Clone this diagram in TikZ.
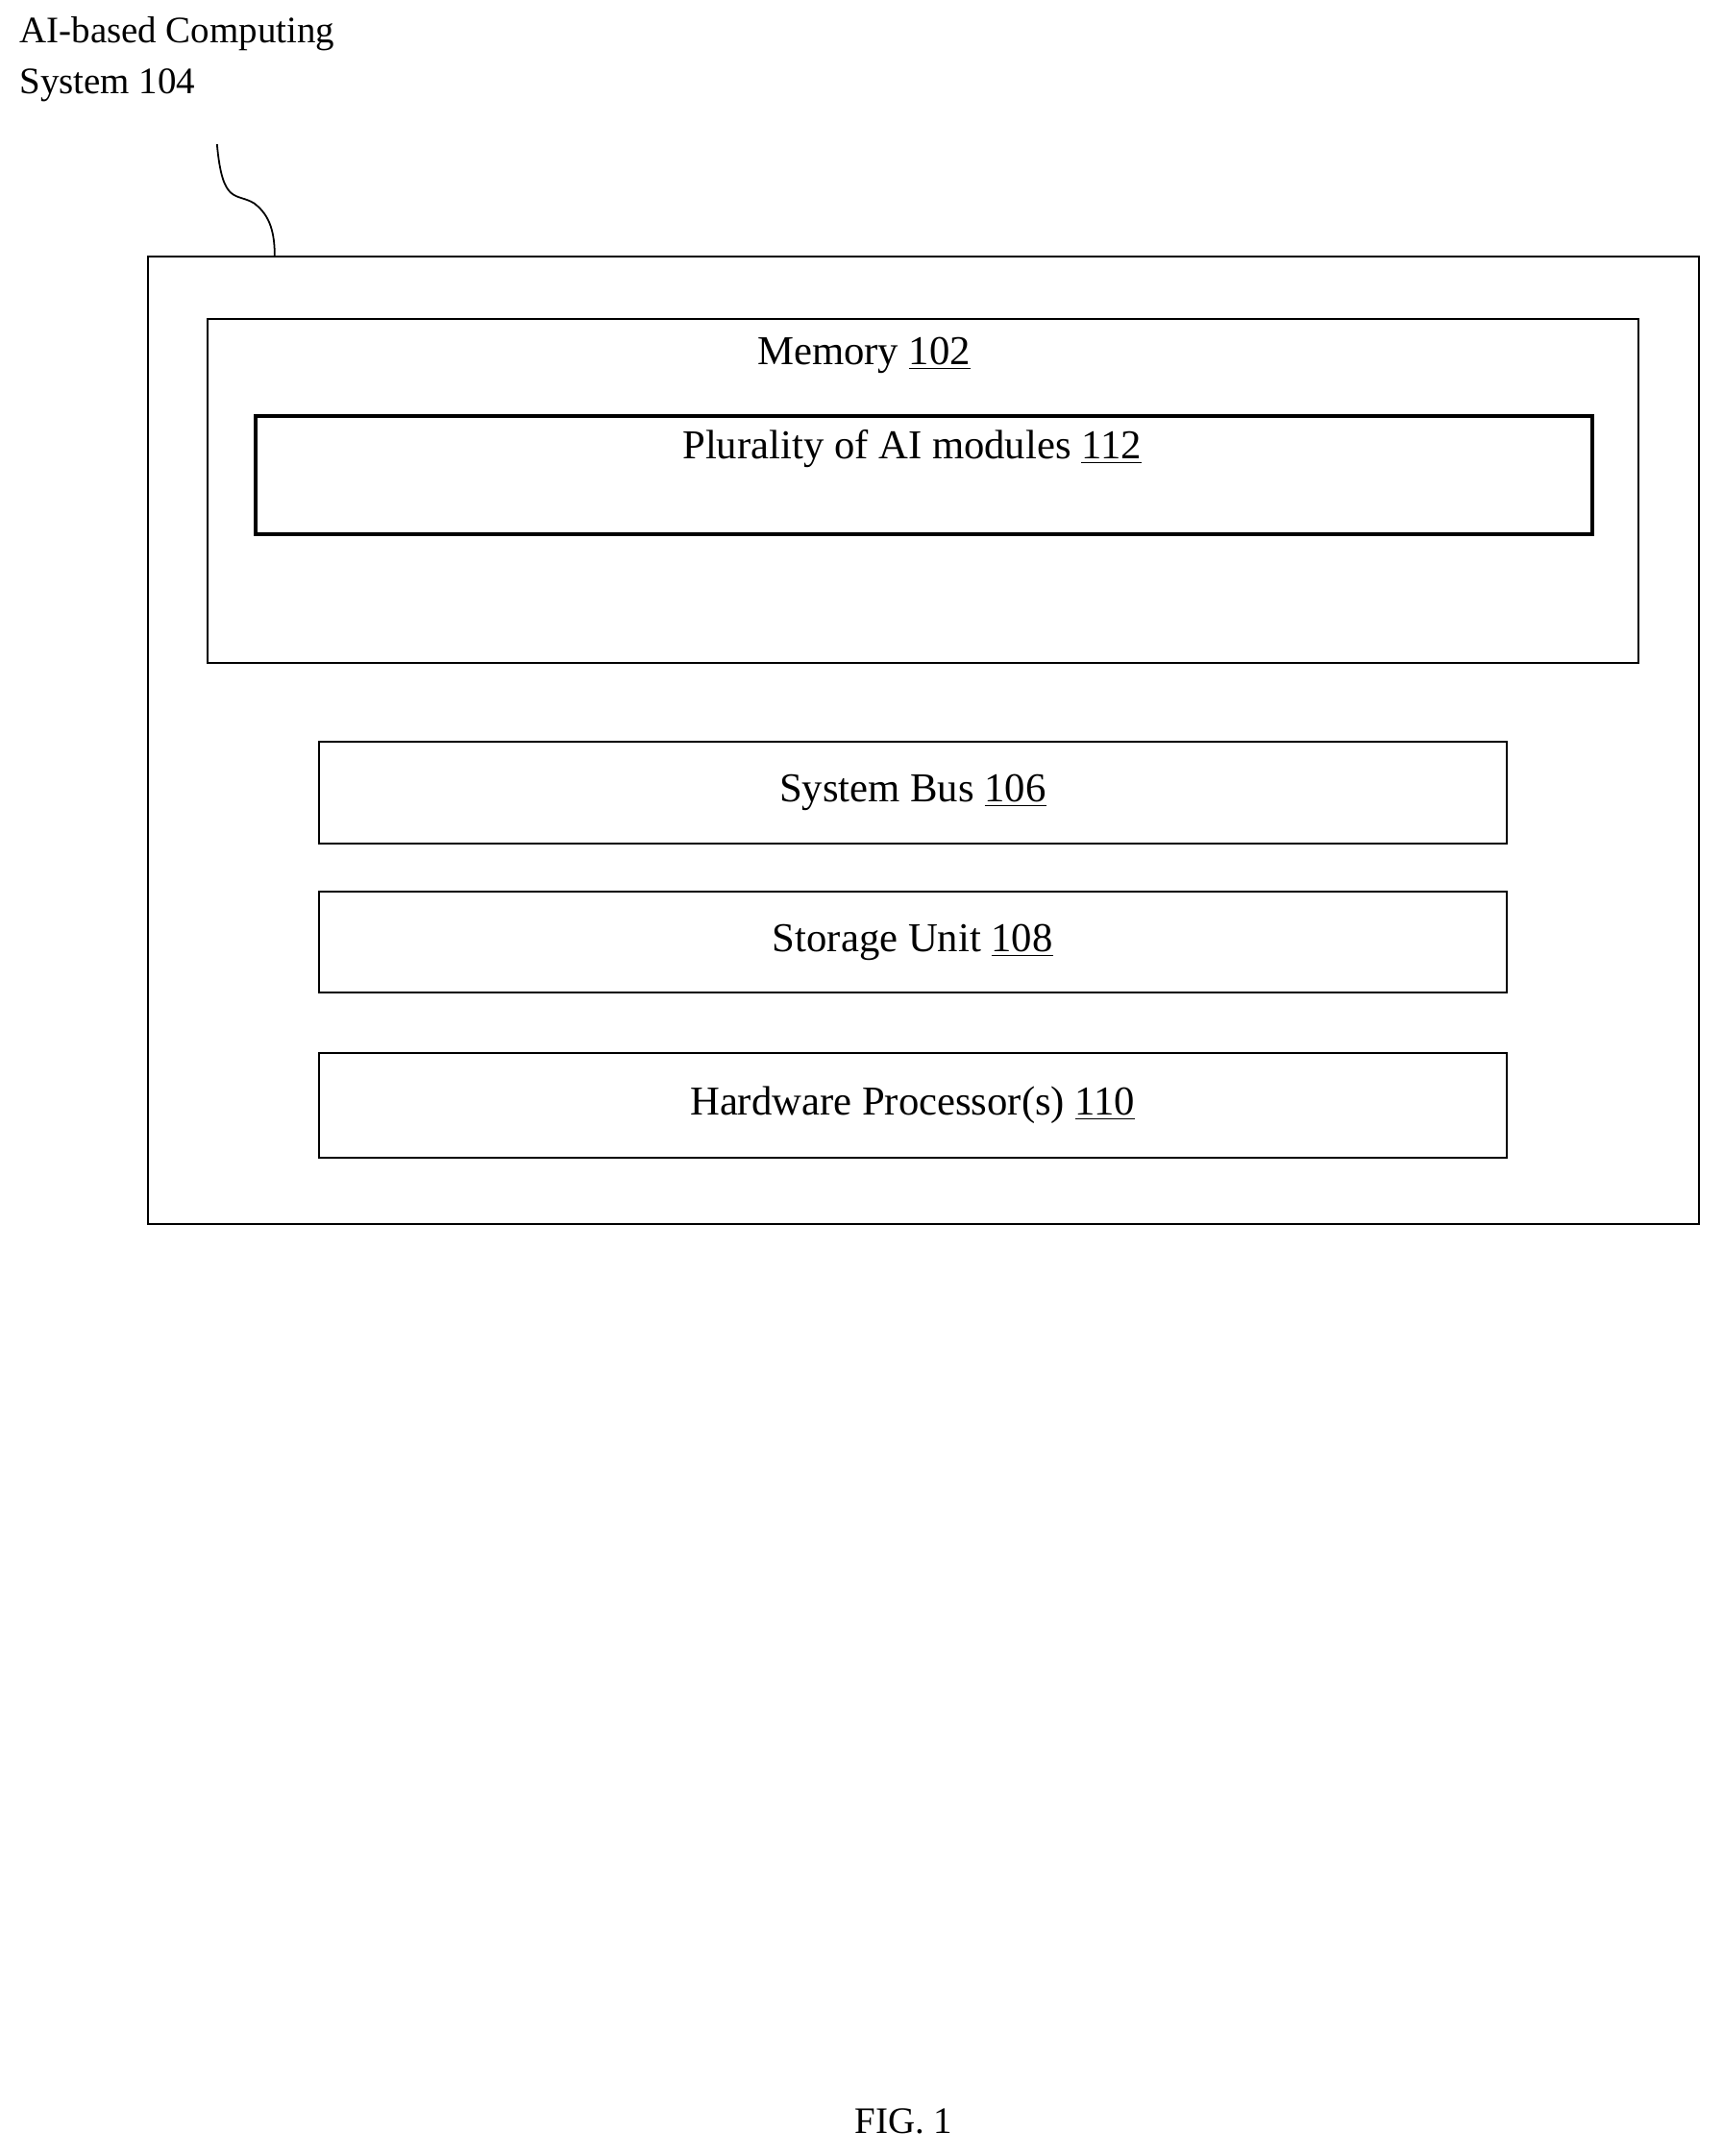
\documentclass[tikz,border=0pt]{standalone}
\usepackage{fontspec}
\setmainfont{Liberation Serif}
\begin{document}
\begin{tikzpicture}[x=0.02cm,y=-0.02cm,
 box/.style={draw,line width=0.8pt},
 txt/.style={font=\fontsize{17}{20}\selectfont,inner sep=0pt}]
\useasboundingbox (0,0) rectangle (1254,1570);
\node[txt,anchor=north west,align=left,font=\fontsize{15.5}{21}\selectfont] (lbl) at (14,12) {AI-based Computing\\System 104};
\coordinate (c1) at (158,105);
\coordinate (c2) at (200,187);
\draw[line width=0.7pt] (c1) .. controls (162,150) and (172,140) .. (185,148) .. controls (197,157) and (200,170) .. (c2);
\draw[box] (108,187) rectangle (1237,891);
\node[box,minimum width=1042*0.02cm,minimum height=251*0.02cm,inner sep=0pt] (mem) at (672,357.5) {};
\node[txt] at (629,259) {Memory \underline{102}};
\node[draw,line width=1.6pt,minimum width=973*0.02cm,minimum height=86*0.02cm,inner sep=0pt] (ai) at (672.5,346) {};
\node[txt] at (664,327) {Plurality of AI modules \underline{112}};
\node[box,txt,minimum width=865*0.02cm,minimum height=74*0.02cm] (bus) at (664.5,577) {System Bus \underline{106}};
\node[box,txt,minimum width=865*0.02cm,minimum height=74*0.02cm] (sto) at (664.5,686) {Storage Unit \underline{108}};
\node[box,txt,minimum width=865*0.02cm,minimum height=76*0.02cm] (hw) at (664.5,805) {Hardware Processor(s) \underline{110}};
\node[txt,font=\fontsize{15.5}{18}\selectfont] (fig) at (658,1545) {FIG. 1};
\end{tikzpicture}
\end{document}
